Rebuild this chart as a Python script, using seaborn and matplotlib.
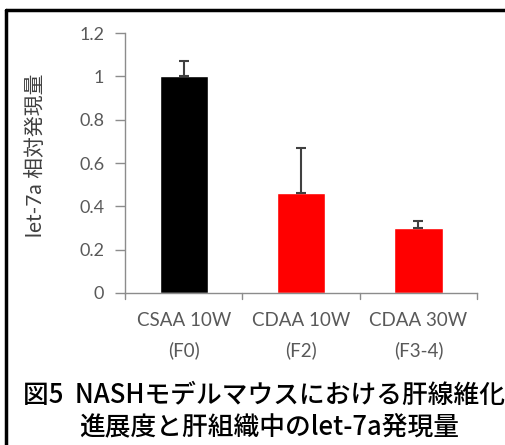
import matplotlib
matplotlib.use("Agg")
import matplotlib.pyplot as plt
import seaborn as sns
import pandas as pd
from matplotlib.lines import Line2D

categories = ["CSAA 10W\n(F0)", "CDAA 10W\n(F2)", "CDAA 30W\n(F3-4)"]
values = [1.00, 0.46, 0.30]
errors = [0.07, 0.21, 0.03]
colors = ["#000000", "#ff0000", "#ff0000"]
yticks = [0, 0.2, 0.4, 0.6, 0.8, 1.0, 1.2]
ytick_labels = ["0", "0.2", "0.4", "0.6", "0.8", "1", "1.2"]

sns.set_theme(style="white")
plt.rcParams["font.family"] = ["Lato", "Noto Sans CJK JP", "DejaVu Sans"]

df = pd.DataFrame({"group": categories, "value": values})

fig = plt.figure(figsize=(5.06, 4.45), dpi=100)
ax = fig.add_axes([0.247, 0.3416, 0.696, 0.5842])

sns.barplot(data=df, x="group", y="value", hue="group", palette=colors,
            width=0.41, saturation=1, legend=False, ax=ax, errorbar=None)
ax.errorbar(range(len(values)), values, yerr=[[0] * len(errors), errors],
            fmt="none", ecolor="#404040", elinewidth=1.5, capsize=3.5, capthick=1.5)

ax.set_xlim(-0.5, 2.5)
ax.set_ylim(0, 1.2)
ax.set_yticks(yticks)
ax.set_yticklabels(ytick_labels)
ax.set_xlabel("")
ax.set_ylabel("let-7a 相対発現量", fontsize=15, color="#404040")
ax.yaxis.set_label_coords(-0.225, 0.53)

axis_grey = "#8c8c8c"
for side in ["top", "right"]:
    ax.spines[side].set_visible(False)
for side in ["left", "bottom"]:
    ax.spines[side].set_color(axis_grey)
    ax.spines[side].set_linewidth(1.0)

ax.tick_params(axis="y", left=True, length=7, width=1, color=axis_grey,
               labelsize=13, labelcolor="#595959", pad=8)
ax.tick_params(axis="x", bottom=False, labelsize=13.5, labelcolor="#595959", pad=8)
for lbl in ax.get_xticklabels():
    lbl.set_linespacing(1.8)

# category boundary ticks on the x axis
for xb in [-0.5, 0.5, 1.5, 2.5]:
    ax.plot([xb, xb], [0, -0.03], color=axis_grey, lw=1, clip_on=False)

# frame on the left and top edges
fig.add_artist(Line2D([0.0119, 0.0119], [0.0, 0.9775], color="black", lw=2.5,
                      transform=fig.transFigure))
fig.add_artist(Line2D([0.0119, 1.0], [0.9775, 0.9775], color="black", lw=2.5,
                      transform=fig.transFigure))

fig.text(0.522, 0.111, "図5  NASHモデルマウスにおける肝線維化", ha="center", va="center",
         fontsize=18.5, color="black", family=["Noto Sans CJK JP"], fontweight="medium")
fig.text(0.532, 0.041, "進展度と肝組織中のlet-7a発現量", ha="center", va="center",
         fontsize=18.5, color="black", family=["Noto Sans CJK JP"], fontweight="medium")

fig.savefig("out.png", dpi=100)
